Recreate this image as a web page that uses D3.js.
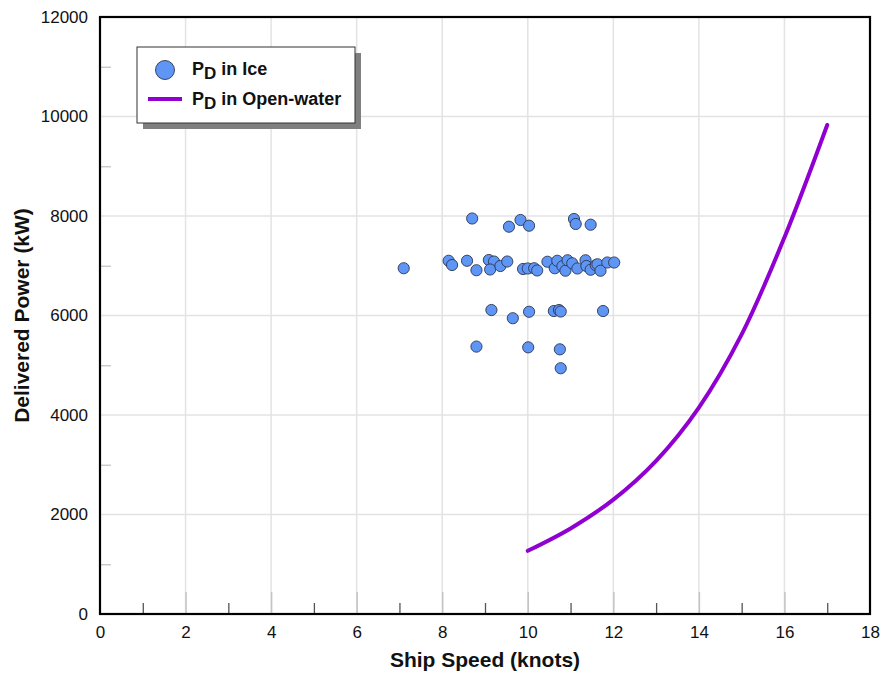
<!DOCTYPE html>
<html>
<head>
<meta charset="utf-8">
<script src="https://cdn.jsdelivr.net/npm/d3@7"></script>
<style>
  body { margin: 0; background: #fff; }
  text { font-family: "Liberation Sans", Arial, sans-serif; }
</style>
</head>
<body>
<div id="chart"></div>
<script>
// data
var iceSpeed = [8.70, 9.83, 9.56, 10.03, 11.08, 11.12, 11.47,
  7.10, 8.15, 8.23, 8.58, 8.80, 9.09, 9.21, 9.12, 9.36, 9.52, 9.89, 10.00, 10.15,
  10.22, 10.46, 10.63, 10.69, 10.81, 10.88, 10.93, 11.04, 11.16, 11.35, 11.37,
  11.47, 11.59, 11.63, 11.70, 11.86, 12.02,
  9.15, 9.65, 10.03, 10.61, 10.73, 10.77, 11.76,
  8.80, 10.01, 10.75, 10.77];
var icePower = [7950, 7920, 7785, 7805, 7940, 7840, 7825,
  6950, 7100, 7015, 7100, 6910, 7115, 7085, 6925, 6995, 7085, 6935, 6945, 6950,
  6905, 7080, 6950, 7100, 6990, 6900, 7110, 7050, 6945, 7110, 6995,
  6920, 7010, 7030, 6900, 7065, 7065,
  6110, 5945, 6075, 6090, 6110, 6080, 6090,
  5375, 5360, 5320, 4940];

var owSpeed = [10, 11, 12, 13, 14, 15, 16, 17];
var owPower = [1270, 1720, 2300, 3080, 4150, 5620, 7570, 9830];

var xTicks = [0, 2, 4, 6, 8, 10, 12, 14, 16, 18];
var yTicks = [0, 2000, 4000, 6000, 8000, 10000, 12000];

var svgWidth = 882;
var svgHeight = 673;
var margin = { top: 17, right: 12, bottom: 59, left: 100 };
var width = svgWidth - margin.left - margin.right;
var height = svgHeight - margin.top - margin.bottom;

var svg = d3.select("#chart")
  .append("svg")
  .attr("width", svgWidth)
  .attr("height", svgHeight);

var chartGroup = svg.append("g")
  .attr("transform", `translate(${margin.left}, ${margin.top})`);

var xScale = d3.scaleLinear().domain([0, 18]).range([0, width]);
var yScale = d3.scaleLinear().domain([0, 12000]).range([height, 0]);

// grid
chartGroup.append("g")
  .selectAll("line.vg")
  .data(xTicks.slice(1, -1))
  .enter().append("line")
  .attr("x1", d => xScale(d)).attr("x2", d => xScale(d))
  .attr("y1", 0).attr("y2", height)
  .attr("stroke", "#e3e3e3").attr("stroke-width", 1.5);

chartGroup.append("g")
  .selectAll("line.hg")
  .data(yTicks.slice(1, -1))
  .enter().append("line")
  .attr("x1", 0).attr("x2", width)
  .attr("y1", d => yScale(d)).attr("y2", d => yScale(d))
  .attr("stroke", "#e3e3e3").attr("stroke-width", 1.5);

// major ticks drawn inside, gray
chartGroup.append("g")
  .attr("transform", `translate(0, ${height})`)
  .call(d3.axisBottom(xScale).tickValues(xTicks.slice(1, -1)).tickSize(-22).tickFormat(""))
  .call(g => g.select(".domain").remove())
  .call(g => g.selectAll("line").attr("stroke", "#c4c4c4").attr("stroke-width", 1.5));

// minor ticks
chartGroup.append("g")
  .attr("transform", `translate(0, ${height})`)
  .call(d3.axisBottom(xScale).tickValues(d3.range(1, 18, 2)).tickSize(-11).tickFormat(""))
  .call(g => g.select(".domain").remove())
  .call(g => g.selectAll("line").attr("stroke", "#555").attr("stroke-width", 1.3));

chartGroup.append("g")
  .call(d3.axisLeft(yScale).tickValues(d3.range(1000, 12000, 2000)).tickSize(-11).tickFormat(""))
  .call(g => g.select(".domain").remove())
  .call(g => g.selectAll("line").attr("stroke", "#c4c4c4").attr("stroke-width", 1.3));

// tick labels
chartGroup.append("g")
  .attr("transform", `translate(0, ${height})`)
  .call(d3.axisBottom(xScale).tickValues(xTicks).tickSize(0).tickPadding(12))
  .call(g => g.select(".domain").remove())
  .call(g => g.selectAll("text").attr("font-size", 17).attr("fill", "#111")
    .style("font-family", "'Liberation Sans', Arial, sans-serif"));

chartGroup.append("g")
  .call(d3.axisLeft(yScale).tickValues(yTicks).tickSize(0).tickPadding(12).tickFormat(d3.format("d")))
  .call(g => g.select(".domain").remove())
  .call(g => g.selectAll("text").attr("font-size", 17).attr("fill", "#111")
    .style("font-family", "'Liberation Sans', Arial, sans-serif"));

// frame
chartGroup.append("rect")
  .attr("width", width).attr("height", height)
  .attr("fill", "none").attr("stroke", "#000").attr("stroke-width", 2.2);

// open water curve
var line = d3.line()
  .x((d, i) => xScale(owSpeed[i]))
  .y(d => yScale(d))
  .curve(d3.curveCatmullRom);

chartGroup.append("path")
  .datum(owPower)
  .attr("d", line)
  .attr("fill", "none")
  .attr("stroke", "#9000d0")
  .attr("stroke-width", 4)
  .attr("stroke-linecap", "round");

// ice points
chartGroup.selectAll("circle.ice")
  .data(icePower)
  .enter()
  .append("circle")
  .attr("class", "ice")
  .attr("cx", (d, i) => xScale(iceSpeed[i]))
  .attr("cy", d => yScale(d))
  .attr("r", 5.6)
  .attr("fill", "#5f96f5")
  .attr("stroke", "#2a3550")
  .attr("stroke-width", 0.9);

// axis titles
svg.append("text")
  .attr("x", margin.left + width / 2 + 0)
  .attr("y", 667)
  .attr("text-anchor", "middle")
  .attr("font-size", 21)
  .attr("font-weight", "bold")
  .attr("fill", "#111")
  .text("Ship Speed (knots)");

svg.append("text")
  .attr("transform", "rotate(-90)")
  .attr("x", -(margin.top + height / 2))
  .attr("y", 29)
  .attr("text-anchor", "middle")
  .attr("font-size", 21)
  .attr("font-weight", "bold")
  .attr("fill", "#111")
  .text("Delivered Power (kW)");

// legend
var legend = svg.append("g").attr("transform", "translate(137, 47)");
legend.append("rect")
  .attr("x", 6).attr("y", 6).attr("width", 218).attr("height", 76)
  .attr("fill", "#7f7f7f");
legend.append("rect")
  .attr("width", 218).attr("height", 76)
  .attr("fill", "#fff").attr("stroke", "#333").attr("stroke-width", 1);

legend.append("circle")
  .attr("cx", 28).attr("cy", 23).attr("r", 9.5)
  .attr("fill", "#5f96f5").attr("stroke", "#2a3550").attr("stroke-width", 0.9);
legend.append("line")
  .attr("x1", 11).attr("x2", 45).attr("y1", 52).attr("y2", 52)
  .attr("stroke", "#9000d0").attr("stroke-width", 4);

var labels = ["in Ice", "in Open-water"];
labels.forEach(function(lbl, i) {
  var t = legend.append("text")
    .attr("x", 55).attr("y", 28 + i * 30)
    .attr("font-size", 18).attr("font-weight", "bold").attr("fill", "#111");
  t.append("tspan").text("P");
  t.append("tspan").attr("dy", 4).attr("font-size", 17).text("D");
  t.append("tspan").attr("dy", -4).text(" " + lbl);
});
</script>
</body>
</html>
